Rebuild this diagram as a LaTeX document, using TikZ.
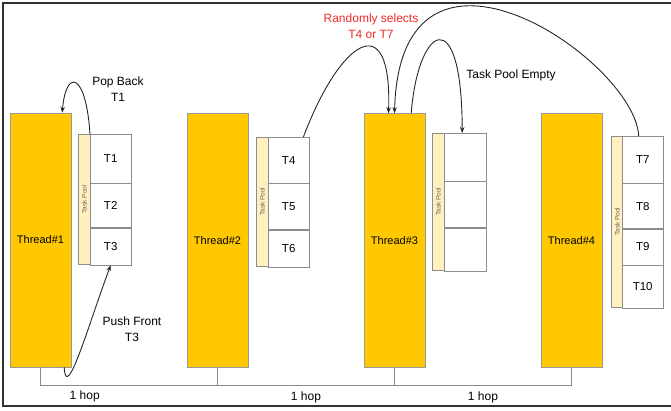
\documentclass[tikz,border=0pt]{standalone}
\usepackage{fontspec}
\setmainfont{Liberation Sans}
\usetikzlibrary{arrows.meta, positioning, calc}
\definecolor{threadgold}{HTML}{FFC800}
\definecolor{poolcream}{HTML}{FFF0BE}
\definecolor{cellgray}{HTML}{8C8C8C}
\definecolor{notered}{HTML}{F02828}

\begin{document}
\begin{tikzpicture}[x=1pt, y=-1pt,
    thread/.style={rectangle, draw=black!40, fill=threadgold, minimum width=61pt, minimum height=254pt, inner sep=0pt, font=\fontsize{11}{13}\selectfont},
    cell/.style={rectangle, draw=cellgray, fill=white, minimum width=41pt, inner sep=0pt, anchor=north west, font=\fontsize{11.5}{13}\selectfont},
    strip/.style={rectangle, draw=cellgray, fill=poolcream, minimum width=12pt, inner sep=0pt, anchor=north west},
    pooltext/.style={font=\fontsize{6.5}{7}\selectfont, text=black!60, rotate=90},
    note/.style={font=\fontsize{12}{16.5}\selectfont, align=center},
    arrow/.style={-{Stealth[length=6pt, width=4.5pt]}, line width=0.9pt, draw=black!85},
    hop/.style={draw=black!45, line width=0.6pt}
]
    \useasboundingbox (0,0) rectangle (671,411);

    % Frame
    \draw[line width=1.1pt, black!80] (671,3) -- (3,3) -- (3,406) -- (671,406);

    % --- Threads ---
    \node[thread] (th1) at (40.5,240) {Thread\#1};
    \node[thread] (th2) at (217.5,240.5) {Thread\#2};
    \node[thread] (th3) at (394.5,240.5) {Thread\#3};
    \node[thread] (th4) at (571.5,240.5) {Thread\#4};

    % --- Task pools ---
    \node[strip, minimum height=130pt] (pool1) at (78,134) {};
    \node[pooltext] (lbl1) at (pool1.center) {Task Pool};
    \node[cell, minimum height=49pt] (t1) at (90,134) {T1};
    \node[cell, minimum height=44pt] (t2) at (t1.south west) {T2};
    \node[cell, minimum height=37pt] (t3) at (t2.south west) {T3};

    \node[strip, minimum height=129pt] (pool2) at (256,137) {};
    \node[pooltext] (lbl2) at (pool2.center) {Task Pool};
    \node[cell, minimum height=46pt] (t4) at (268,137) {T4};
    \node[cell, minimum height=46pt] (t5) at (t4.south west) {T5};
    \node[cell, minimum height=37pt] (t6) at (t5.south west) {T6};

    \node[strip, minimum height=137pt] (pool3) at (432,133) {};
    \node[pooltext] (lbl3) at (pool3.center) {Task Pool};
    \node[cell, minimum width=42pt, minimum height=48pt] (e1) at (444,133) {};
    \node[cell, minimum width=42pt, minimum height=46pt] (e2) at (e1.south west) {};
    \node[cell, minimum width=42pt, minimum height=43pt] (e3) at (e2.south west) {};

    \node[strip, minimum height=171pt] (pool4) at (611,136) {};
    \node[pooltext] (lbl4) at (pool4.center) {Task Pool};
    \node[cell, minimum height=47pt] (t7) at (622,136) {T7};
    \node[cell, minimum height=45pt] (t8) at (t7.south west) {T8};
    \node[cell, minimum height=36pt] (t9) at (t8.south west) {T9};
    \node[cell, minimum height=43pt] (t10) at (t9.south west) {T10};

    % --- Notes ---
    \node[note] (popback) at (118,89) {Pop Back\\T1};
    \node[note] (pushfront) at (132,329) {Push Front\\T3};
    \node[note, text=notered] (random) at (371,26) {Randomly selects\\T4 or T7};
    \node[note] (empty) at (511,75) {Task Pool Empty};

    % --- Arrows ---
    \draw[arrow] (t1.north west) .. controls (86,72) and (66,68) .. ($(th1.north east)+(-9,0)$);
    \draw[arrow] ($(th1.south east)+(-7,0)$) .. controls (66,405) and (90,320) .. (t3.south);
    \draw[arrow] ($(t4.north east)+(-6,0)$) .. controls (340,40) and (392,5) .. ($(th3.north)+(-6,0)$);
    \draw[arrow] ($(t7.north)+(-4,0)$) .. controls (635,60) and (400,-100) .. (th3.north);
    \draw[arrow] ($(th3.north east)+(-14,0)$) .. controls (418,25) and (462,0) .. ($(e1.north)+(-3,0)$);

    % --- Hops ---
    \draw[hop] (th1.south) -- ++(0,18) -| (th2.south) node[pos=0.125, below=2pt, note] (hop1) {1 hop};
    \draw[hop] (th2.south) -- ++(0,18) -| (th3.south) node[pos=0.25, below=2pt, note] (hop2) {1 hop};
    \draw[hop] (th3.south) -- ++(0,18) -| (th4.south) node[pos=0.25, below=2pt, note] (hop3) {1 hop};
\end{tikzpicture}
\end{document}
